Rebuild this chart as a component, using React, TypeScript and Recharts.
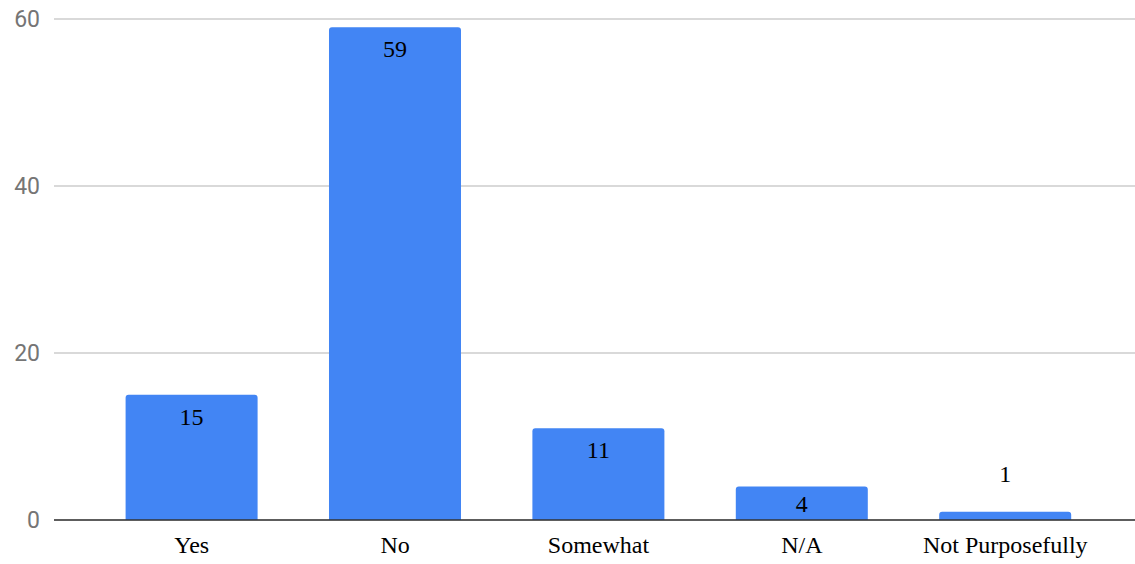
import { BarChart, Bar, XAxis, YAxis, CartesianGrid, LabelList } from 'recharts';

const categories = ['Yes', 'No', 'Somewhat', 'N/A', 'Not Purposefully'];
const counts = [15, 59, 11, 4, 1];
const yTicks = [0, 20, 40, 60];

const data = categories.map((name, i) => ({ name, count: counts[i] }));

const serif = '"Liberation Serif", "Times New Roman", serif';

// value label: inside the top of the bar, or above it when the bar is too short
const ValueLabel = (props: any) => {
  const { x, y, width, height, value } = props;
  const inside = height > 20;
  const baseline = inside ? Math.min(y + 30, y + height - 8) : y - 30;
  return (
    <text
      x={x + width / 2}
      y={baseline}
      textAnchor="middle"
      fontFamily={serif}
      fontSize={24}
      fill="#000"
    >
      {value}
    </text>
  );
};

const App = () => {
  return (
    <div style={{ position: 'absolute', left: 0, top: 0, background: '#fff' }}>
      <BarChart
        width={1135}
        height={564}
        data={data}
        margin={{ top: 19, right: 0, bottom: 0, left: 0 }}
        barCategoryGap="17.5%"
      >
        <CartesianGrid horizontal vertical={false} stroke="#cccccc" strokeWidth={1.5} />
        <XAxis
          dataKey="name"
          height={44}
          padding={{ left: 36, right: 28 }}
          tickLine={false}
          tickSize={0}
          tickMargin={16}
          axisLine={{ stroke: '#333', strokeWidth: 1.5 }}
          tick={{ fontFamily: serif, fontSize: 24, fill: '#000' }}
          interval={0}
        />
        <YAxis
          width={54}
          domain={[0, 60]}
          ticks={yTicks}
          axisLine={false}
          tickLine={false}
          tickSize={0}
          tickMargin={14}
          tick={{ fontFamily: 'Roboto, sans-serif', fontSize: 23, fill: '#757575' }}
        />
        <Bar dataKey="count" fill="#4285F4" radius={[3, 3, 0, 0]} isAnimationActive={false}>
          <LabelList dataKey="count" content={ValueLabel} />
        </Bar>
      </BarChart>
    </div>
  );
};

export default App;
